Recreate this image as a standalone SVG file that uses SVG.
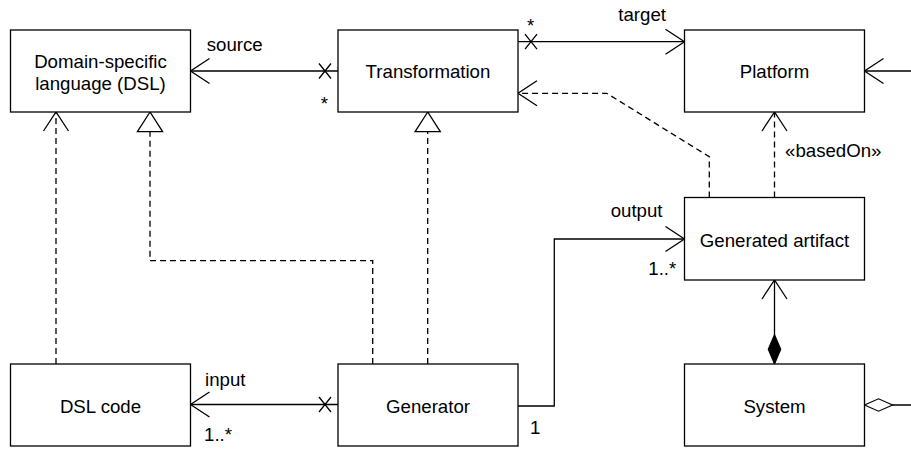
<svg xmlns="http://www.w3.org/2000/svg" width="911" height="449" viewBox="0 0 911 449">
<defs>
<style>
.box{fill:#fff;stroke:#000;stroke-width:1.3}
.t{font-family:"Liberation Sans",Arial,sans-serif;font-size:18.67px;fill:#000}
.c{text-anchor:middle}
.ln{fill:none;stroke:#000;stroke-width:1.3}
.dash{stroke-dasharray:6 4}
.mk{fill:none;stroke:#000;stroke-width:1.3;stroke-dasharray:none}
.mkw{fill:#fff;stroke:#000;stroke-width:1.3;stroke-dasharray:none}
.mkb{fill:#000;stroke:#000;stroke-width:1.3;stroke-dasharray:none}
</style>
<marker id="open" markerUnits="userSpaceOnUse" orient="auto" markerWidth="40" markerHeight="40" refX="0" refY="0" viewBox="-25 -20 30 40" overflow="visible">
<path class="mk" d="M-19,-12.5 L0,0 L-19,12.5"/>
</marker>
<marker id="tri" markerUnits="userSpaceOnUse" orient="auto" markerWidth="40" markerHeight="40" refX="0" refY="0" viewBox="-25 -20 30 40" overflow="visible">
<path class="mkw" d="M0,0 L-19.7,-12.6 L-19.7,12.6 Z"/>
</marker>
<marker id="cross" markerUnits="userSpaceOnUse" orient="auto" markerWidth="40" markerHeight="40" refX="0" refY="0" viewBox="-5 -20 30 40" overflow="visible">
<path class="mk" d="M7,-7.5 L19,7.5 M7,7.5 L19,-7.5"/>
</marker>
<marker id="fdia" markerUnits="userSpaceOnUse" orient="auto" markerWidth="40" markerHeight="40" refX="0" refY="0" viewBox="-5 -20 45 40" overflow="visible">
<path class="mkb" d="M0,0 L16.5,-7 L33,0 L16.5,7 Z"/>
</marker>
<marker id="hdia" markerUnits="userSpaceOnUse" orient="auto" markerWidth="40" markerHeight="40" refX="0" refY="0" viewBox="-5 -20 45 40" overflow="visible">
<path class="mkw" d="M0,0 L15.8,-7 L31.6,0 L15.8,7 Z"/>
</marker>
</defs>
<rect width="911" height="449" fill="#fff"/>

<g id="connectors">
<path class="ln" d="M338,71 L190.5,71" marker-start="url(#cross)" marker-end="url(#open)"/>
<path class="ln" d="M518,41.7 L684.5,41.7" marker-start="url(#cross)" marker-end="url(#open)"/>
<path class="ln" d="M911,71 L864.5,71" marker-end="url(#open)"/>
<path class="ln dash" d="M709.3,197.5 L709.3,156.7 L606.7,93.3 L518,93.3" marker-end="url(#open)"/>
<path class="ln dash" d="M774.5,197.5 L774.5,112" marker-end="url(#open)"/>
<path class="ln dash" d="M56,364 L56,112" marker-end="url(#open)"/>
<path class="ln dash" d="M372.7,364 L372.7,260.7 L150,260.7 L150,112" marker-end="url(#tri)"/>
<path class="ln dash" d="M427.7,364 L427.7,112" marker-end="url(#tri)"/>
<path class="ln" d="M338,404.5 L190.5,404.5" marker-start="url(#cross)" marker-end="url(#open)"/>
<path class="ln" d="M518,406 L554.3,406 L554.3,239 L684.5,239" marker-end="url(#open)"/>
<path class="ln" d="M774.5,364 L774.5,280" marker-start="url(#fdia)" marker-end="url(#open)"/>
<path class="ln" d="M864.5,405 L911,405" marker-start="url(#hdia)"/>
<text class="t" x="206.7" y="51">source</text>
<text class="t c" x="324.3" y="109.5">*</text>
<text class="t c" x="530.7" y="31.7">*</text>
<text class="t" x="618.3" y="21">target</text>
<text class="t" x="785" y="156.7">«basedOn»</text>
<text class="t" x="610.7" y="216.7">output</text>
<text class="t" x="648.3" y="275">1..*</text>
<text class="t" x="205" y="385.7">input</text>
<text class="t" x="204" y="441">1..*</text>
<text class="t" x="530" y="434.3">1</text>
</g>

<g id="dsl">
<rect class="box" x="10.5" y="30" width="180" height="82"/>
<text class="t c" x="100.5" y="67.7">Domain-specific</text>
<text class="t c" x="100.5" y="89.7">language (DSL)</text>
</g>
<g id="transformation">
<rect class="box" x="338" y="30" width="180" height="82"/>
<text class="t c" x="428" y="77.7">Transformation</text>
</g>
<g id="platform">
<rect class="box" x="684.5" y="30" width="180" height="82"/>
<text class="t c" x="774.5" y="77.7">Platform</text>
</g>
<g id="generated-artifact">
<rect class="box" x="684.5" y="197.5" width="180" height="82.5"/>
<text class="t c" x="774.5" y="247">Generated artifact</text>
</g>
<g id="dsl-code">
<rect class="box" x="10.5" y="364" width="180" height="82"/>
<text class="t c" x="100.5" y="413">DSL code</text>
</g>
<g id="generator">
<rect class="box" x="338" y="364" width="180" height="82"/>
<text class="t c" x="428" y="413">Generator</text>
</g>
<g id="system">
<rect class="box" x="684.5" y="364" width="180" height="82"/>
<text class="t c" x="774.5" y="413">System</text>
</g>
</svg>
